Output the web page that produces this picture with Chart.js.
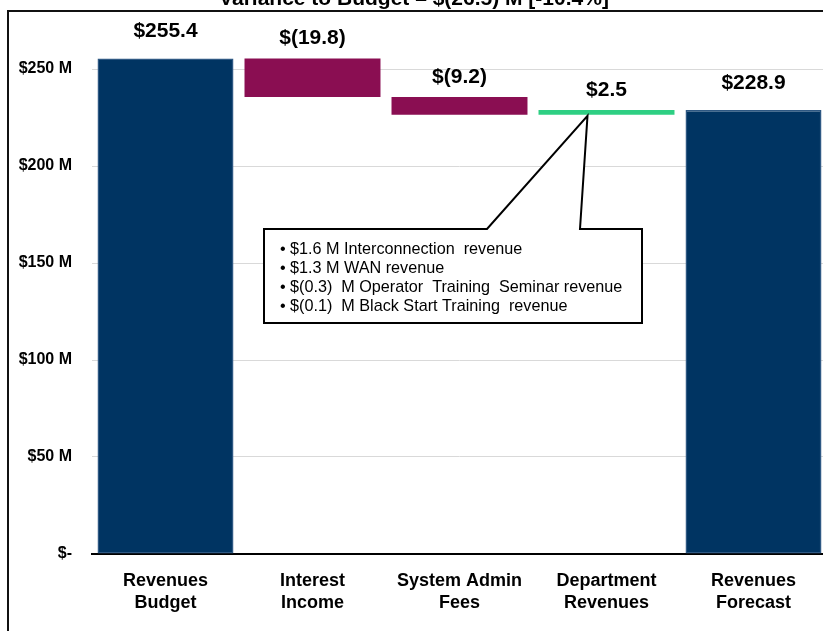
<!DOCTYPE html>
<html>
<head>
<meta charset="utf-8">
<script src="https://cdn.jsdelivr.net/npm/chart.js@4.4.1/dist/chart.umd.min.js"></script>
<style>
  html, body { margin: 0; padding: 0; overflow: hidden; background: #fff; }
  #wrap { width: 827px; height: 631px; }
</style>
</head>
<body>
<div id="wrap"><canvas id="c" width="827" height="631"></canvas></div>
<script>
// ---- data ----
const categories = [
  ["Revenues", "Budget"],
  ["Interest", "Income"],
  ["System Admin", "Fees"],
  ["Department", "Revenues"],
  ["Revenues", "Forecast"]
];
const barStart = [0, 235.6, 226.4, 226.4, 0];
const barEnd   = [255.4, 255.4, 235.6, 228.9, 228.9];
const valueLabels = ["$255.4", "$(19.8)", "$(9.2)", "$2.5", "$228.9"];
const barKinds = ["total", "decrease", "decrease", "increase", "total"];
const yTickValues = [0, 50, 100, 150, 200, 250];
const yAxisMax = 275;
const titleText = "Variance to Budget \u2013 $(26.5) M [-10.4%]";
const noteLines = [
  "$1.6 M Interconnection  revenue",
  "$1.3 M WAN revenue",
  "$(0.3)  M Operator  Training  Seminar revenue",
  "$(0.1)  M Black Start Training  revenue"
];
const noteCategoryIndex = 3;

// ---- styles ----
const kindColors = { total: "#003462", decrease: "#8a0e52", increase: "#2ecf83" };
const kindBorders = { total: "#2e5883", decrease: "#8a0e52", increase: "#2ecf83" };
const FONT = "Arial, 'Liberation Sans', sans-serif";

const decorPlugin = {
  id: "decor",
  afterDatasetsDraw(chart) {
    const ctx = chart.ctx;
    const meta = chart.getDatasetMeta(0);
    const ys = chart.scales.y, xs = chart.scales.x;
    ctx.save();
    // value labels
    ctx.font = "bold 21px " + FONT;
    ctx.fillStyle = "#000";
    ctx.textAlign = "center";
    ctx.textBaseline = "middle";
    meta.data.forEach((el, i) => {
      const top = Math.min(el.y, el.base);
      const off = barKinds[i] === "total" ? 27 : 20;
      ctx.fillText(valueLabels[i], el.x, top - off);
    });
    // callout
    const tipX = xs.getPixelForValue(noteCategoryIndex) - 19;
    const tipY = ys.getPixelForValue(barStart[noteCategoryIndex]) + 1;
    const bl = 264, br = 642, bt = 229, bb = 323;
    ctx.beginPath();
    ctx.moveTo(bl, bt);
    ctx.lineTo(487, bt);
    ctx.lineTo(tipX, tipY);
    ctx.lineTo(580, bt);
    ctx.lineTo(br, bt);
    ctx.lineTo(br, bb);
    ctx.lineTo(bl, bb);
    ctx.closePath();
    ctx.fillStyle = "#fff";
    ctx.fill();
    ctx.lineWidth = 2;
    ctx.strokeStyle = "#000";
    ctx.stroke();
    ctx.font = "16.2px " + FONT;
    ctx.fillStyle = "#000";
    ctx.textAlign = "left";
    ctx.textBaseline = "middle";
    noteLines.forEach((t, i) => {
      const y = 250 + i * 18.7;
      ctx.fillText("\u2022", 280, y);
      ctx.fillText(t, 290, y);
    });
    // title (clipped at top)
    ctx.font = "bold 21px " + FONT;
    ctx.textAlign = "center";
    ctx.textBaseline = "alphabetic";
    ctx.fillText(titleText, 414, 5);
    // frame
    ctx.beginPath();
    ctx.moveTo(8, 631);
    ctx.lineTo(8, 11);
    ctx.lineTo(827, 11);
    ctx.lineWidth = 2;
    ctx.strokeStyle = "#111";
    ctx.stroke();
    ctx.restore();
  }
};

new Chart(document.getElementById("c"), {
  type: "bar",
  data: {
    labels: categories,
    datasets: [{
      data: barStart.map((s, i) => [s, barEnd[i]]),
      backgroundColor: barKinds.map(k => kindColors[k]),
      borderColor: barKinds.map(k => kindBorders[k]),
      borderWidth: barKinds.map(k => k === "total" ? 1.5 : 0),
      borderSkipped: false,
      barPercentage: 0.925,
      categoryPercentage: 1
    }]
  },
  options: {
    responsive: false,
    animation: false,
    events: [],
    layout: { padding: { top: 20.5, right: 0, left: 0, bottom: 0 } },
    plugins: { legend: { display: false }, tooltip: { enabled: false }, title: { display: false } },
    scales: {
      x: {
        grid: { display: false, drawTicks: false },
        border: { display: true, color: "#000", width: 2 },
        ticks: {
          color: "#000",
          font: { family: FONT, size: 18, weight: "bold", lineHeight: 1.22 },
          padding: 16,
          maxRotation: 0,
          autoSkip: false
        },
        afterFit(s) { s.height = 77; s.paddingLeft = 0; s.paddingRight = 0; }
      },
      y: {
        min: 0,
        max: yAxisMax,
        bounds: "data",
        ticks: {
          stepSize: 25,
          color: "#000",
          padding: 20,
          font: { family: FONT, size: 16, weight: "bold" },
          callback: v => v === 0 ? "$-" : "$" + v + " M"
        },
        afterBuildTicks(s) { s.ticks = yTickValues.map(v => ({ value: v })); },
        afterDataLimits(s) { s.min = 0; s.max = yAxisMax; },
        grid: {
          drawTicks: false,
          color: c => (c.tick && c.tick.value === 0) ? "rgba(0,0,0,0)" : "#d9d9d9",
          lineWidth: 1
        },
        border: { display: false },
        afterFit(s) { s.width = 92; s.paddingTop = 0; s.paddingBottom = 0; }
      }
    }
  },
  plugins: [decorPlugin]
});
</script>
</body>
</html>
